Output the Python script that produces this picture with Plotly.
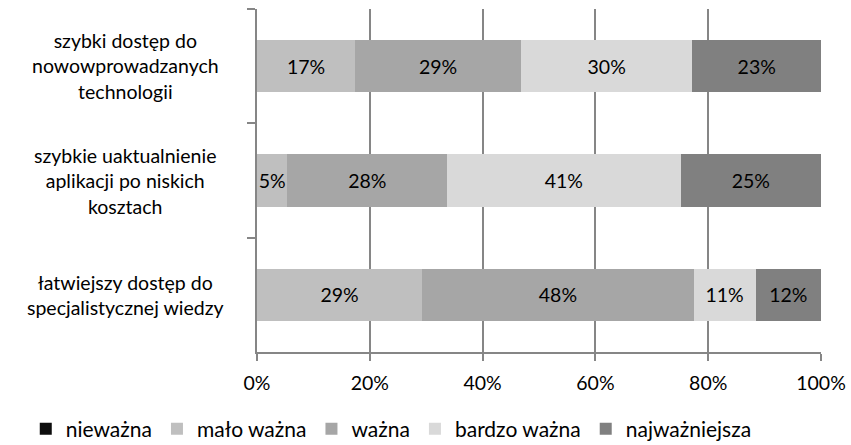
import plotly.graph_objects as go

categories = [
    "szybki dostęp do<br>nowowprowadzanych<br>technologii",
    "szybkie uaktualnienie<br>aplikacji po niskich<br>kosztach",
    "łatwiejszy dostęp do<br>specjalistycznej wiedzy",
]
series_names = ["nieważna", "mało ważna", "ważna", "bardzo ważna", "najważniejsza"]
niewazna = [0, 0, 0]
malo_wazna = [17.4, 5.4, 29.3]
wazna = [29.4, 28.3, 48.1]
bardzo_wazna = [30.4, 41.4, 11.0]
najwazniejsza = [22.8, 24.9, 11.6]
x_ticks = [0, 20, 40, 60, 80, 100]
x_tick_labels = ["0%", "20%", "40%", "60%", "80%", "100%"]

colors = ["#0d0d0d", "#bfbfbf", "#a6a6a6", "#d9d9d9", "#808080"]
all_values = [niewazna, malo_wazna, wazna, bardzo_wazna, najwazniejsza]

FONT = "Lato"
FS = 19.5
fig = go.Figure()
for name, vals, col in zip(series_names, all_values, colors):
    fig.add_trace(go.Bar(
        y=categories, x=vals, name=name, orientation="h",
        marker=dict(color=col, line=dict(width=0)),
        text=[f"{v:.0f}%" if v > 0 else "" for v in vals],
        textposition="inside", insidetextanchor="middle", textangle=0,
        textfont=dict(family=FONT, size=FS, color="#000000"),
        hoverinfo="skip",
    ))

for c in categories:
    fig.add_annotation(
        x=-0.234, xref="paper", y=c, yref="y", text=c, showarrow=False,
        xanchor="center", yanchor="middle", align="center",
        font=dict(family=FONT, size=FS, color="#000000"),
    )

fig.update_layout(
    barmode="stack",
    bargap=0.54,
    width=851, height=445,
    margin=dict(l=257, r=30, t=9, b=93, autoexpand=False),
    plot_bgcolor="white", paper_bgcolor="white",
    font=dict(family=FONT, size=FS, color="#000000"),
    uniformtext=dict(minsize=FS, mode="show"),
    showlegend=True,
    legend=dict(
        orientation="h", x=-0.41, xref="paper", xanchor="left",
        y=-0.165, yref="paper", yanchor="top",
        font=dict(family=FONT, size=21, color="#000000"),
        traceorder="normal", itemwidth=30, tracegroupgap=0,
        bgcolor="rgba(0,0,0,0)",
    ),
    xaxis=dict(
        range=[0, 100], tickvals=x_ticks, ticktext=x_tick_labels,
        showgrid=True, gridcolor="#868686", gridwidth=1.5,
        showline=True, linecolor="#868686", linewidth=1.5,
        ticks="outside", ticklen=7, tickcolor="#868686", tickwidth=1.5,
        ticklabelstandoff=6,
        zeroline=False, fixedrange=True,
        tickfont=dict(family=FONT, size=FS, color="#000000"),
    ),
    yaxis=dict(
        categoryorder="array", categoryarray=categories, autorange="reversed",
        showticklabels=False, showgrid=False,
        showline=True, linecolor="#868686", linewidth=1.5,
        ticks="outside", ticklen=8, tickcolor="#868686", tickwidth=1.5,
        tickson="boundaries", zeroline=False, fixedrange=True,
    ),
)

fig.write_html("out.html")
